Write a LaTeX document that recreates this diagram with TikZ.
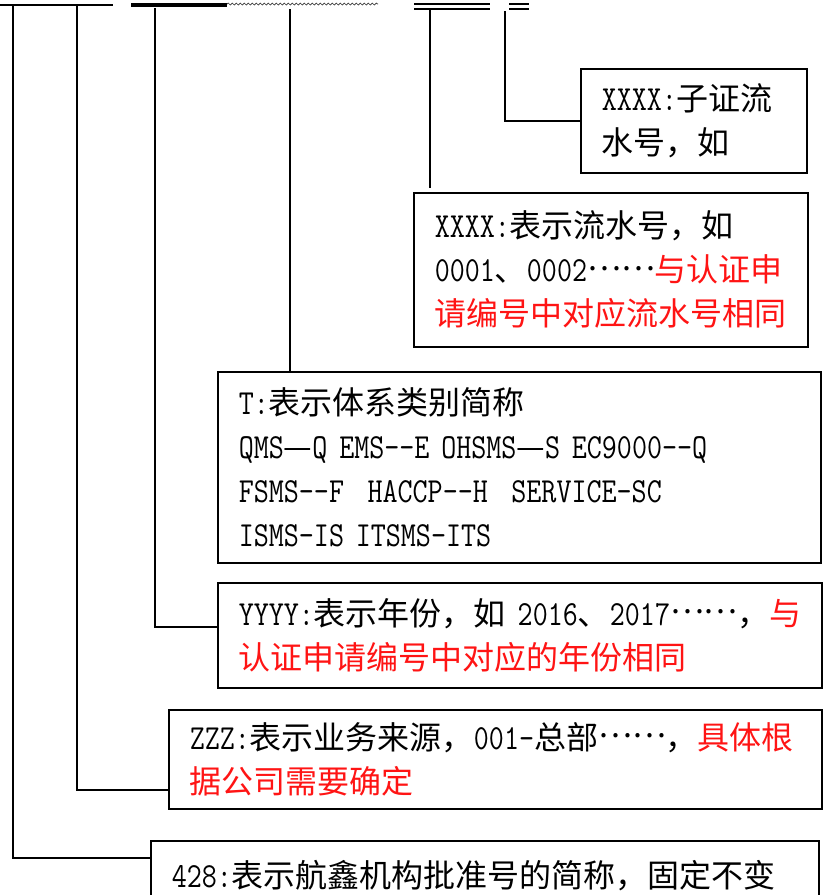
\documentclass[tikz,border=0pt]{standalone}
\usepackage{fontspec}
\setmonofont{Latin Modern Mono}[Scale=1.1, FakeStretch=0.83]
\newfontfamily\cjkfont{Noto Sans CJK SC}
\usetikzlibrary{positioning,decorations.pathmorphing}
\definecolor{noteRed}{RGB}{255, 20, 20}
\newcommand{\zh}[1]{{\cjkfont #1}}
\newcommand{\rd}[1]{{\color{noteRed}\cjkfont #1}}
\newcommand{\dotsline}{\raisebox{.33em}[0pt][0pt]{\cjkfont ……}}

\begin{document}
\begin{tikzpicture}[x=1pt, y=-1pt,
    notebox/.style={draw, line width=1.5pt, anchor=north west, align=left,
        inner xsep=21pt, inner ysep=0pt, font=\fontsize{32}{44}\selectfont\ttfamily},
    lead/.style={line width=1.5pt}]
        \useasboundingbox (0,0) rectangle (832,895);

        % code segments along the top
        \draw[line width=1.5pt] (0,5) -- (113,5);
        \draw[line width=3.5pt] (131,5) -- (227,5);
        \draw[line width=0.7pt, gray!40!black, decorate,
            decoration={snake, amplitude=1pt, segment length=4pt}] (227,4) -- (378,4);
        \draw[line width=1.2pt] (414,4) -- (490,4) (414,9) -- (490,9);
        \draw[line width=1.2pt] (509,4) -- (529,4) (509,9) -- (529,9);

        \coordinate (s428) at (13,5);
        \coordinate (szzz) at (77,5);
        \coordinate (syear) at (155,8);
        \coordinate (stype) at (290,9);
        \coordinate (sflow) at (430,10);
        \coordinate (ssub) at (505,11);

        % notes
        \node[notebox, text width=184pt, minimum height=104pt] (sub) at (580,68)
            {XXXX:\zh{子证流}\\\zh{水号，如}};
        \node[notebox, text width=352pt, minimum height=154pt] (flow) at (413,192)
            {XXXX:\zh{表示流水号，如}\\0001\zh{、}0002\dotsline\rd{与认证申}\\\rd{请编号中对应流水号相同}};
        \node[notebox, text width=561pt, minimum height=191pt] (type) at (217,371)
            {T:\zh{表示体系类别简称}\\QMS\zh{—}Q EMS--E OHSMS\zh{—}S EC9000--Q\\FSMS--F~~HACCP--H~~SERVICE-SC\\ISMS-IS ITSMS-ITS};
        \node[notebox, text width=562pt, minimum height=105pt] (year) at (217,582)
            {YYYY:\zh{表示年份，如}~2016\zh{、}2017\dotsline\zh{，}\rd{与}\\\rd{认证申请编号中对应的年份相同}};
        \node[notebox, text width=611pt, minimum height=99pt] (zzz) at (168,709)
            {ZZZ:\zh{表示业务来源，}001-\zh{总部}\dotsline\zh{，}\rd{具体根}\\\rd{据公司需要确定}};
        \node[notebox, text width=626pt, minimum height=70pt] (n428) at (150,840)
            {428:\zh{表示航鑫机构批准号的简称，固定不变}};

        % leads
        \draw[lead] (ssub) |- (sub.west);
        \draw[lead] (sflow) -- ([yshift=4pt]sflow |- flow.north);
        \draw[lead] (stype) -- (stype |- type.north);
        \draw[lead] (syear) |- ([yshift=-45pt]year.north west);
        \draw[lead] (szzz) |- ([yshift=-81pt]zzz.north west);
        \draw[lead] (s428) |- ([yshift=-18pt]n428.north west);
\end{tikzpicture}
\end{document}
